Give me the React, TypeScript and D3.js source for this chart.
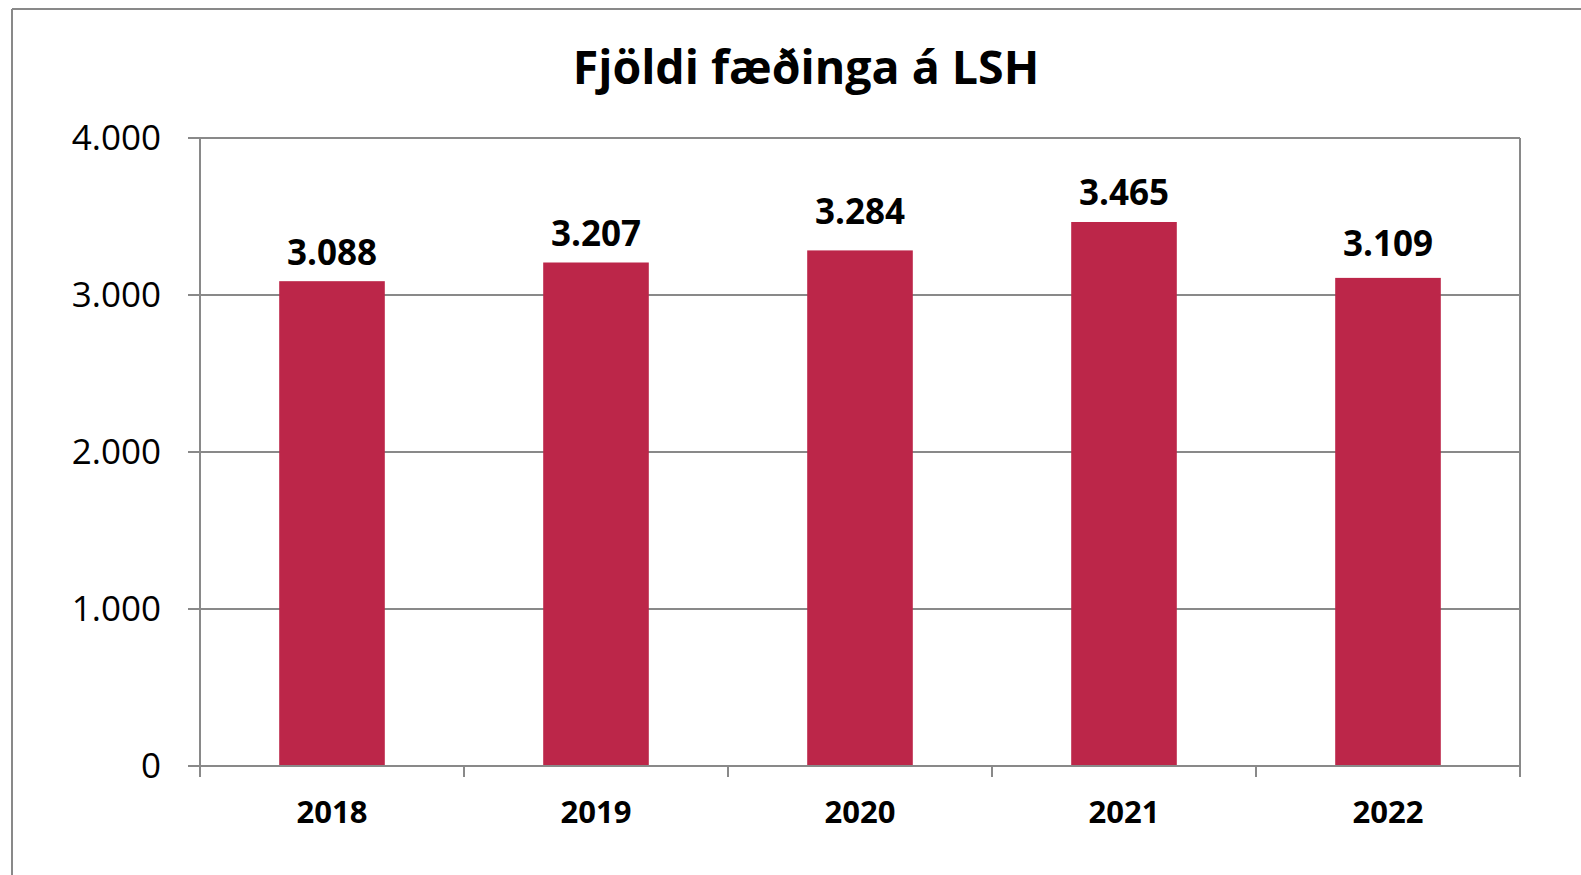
import React from "react";
import * as d3 from "d3";

const categories = ["2018", "2019", "2020", "2021", "2022"];
const births = [3088, 3207, 3284, 3465, 3109];
const yTicks = [0, 1000, 2000, 3000, 4000];
const title = "Fjöldi fæðinga á LSH";

// gap (px) between each bar top and its value label baseline, as placed in the original
const labelGap = [16, 17, 26, 17, 22];

const W = 1581;
const H = 875;
const plot = { left: 200, right: 1520, top: 138, bottom: 766 };
const FONT = "'Open Sans', 'Noto Sans', sans-serif";
const GRID = "#898989";
const BAR = "#BC2649";

const fmt = (v: number) => d3.format(",")(v).replace(/,/g, ".");

export default function App() {
  const x = d3
    .scaleBand<string>()
    .domain(categories)
    .range([plot.left, plot.right])
    .paddingInner(0)
    .paddingOuter(0);
  const y = d3.scaleLinear().domain([0, 4000]).range([plot.bottom, plot.top]);
  const barW = x.bandwidth() * 0.4;
  const boundaries = categories.map((c) => x(c) as number).concat([plot.right]);

  return (
    <svg
      width={W}
      height={H}
      style={{ position: "absolute", left: 0, top: 0, background: "#fff" }}
    >
      <rect x={0} y={0} width={W} height={H} fill="#fff" />
      {/* outer chart border */}
      <line x1={12} y1={9} x2={W} y2={9} stroke={GRID} strokeWidth={2} />
      <line x1={12} y1={9} x2={12} y2={H} stroke={GRID} strokeWidth={2} />

      <text
        x={806}
        y={84}
        textAnchor="middle"
        fontFamily={FONT}
        fontWeight="bold"
        fontSize={46.5}
        fill="#000"
      >
        {title}
      </text>

      {/* gridlines & y ticks */}
      {yTicks.map((t) => (
        <g key={t}>
          <line
            x1={plot.left - 12}
            x2={plot.right}
            y1={y(t)}
            y2={y(t)}
            stroke={GRID}
            strokeWidth={2}
          />
          <text
            x={161}
            y={y(t)}
            dy="0.35em"
            textAnchor="end"
            fontFamily={FONT}
            fontSize={35}
            fill="#000"
          >
            {fmt(t)}
          </text>
        </g>
      ))}
      {/* plot area border left & right */}
      <line x1={plot.left} x2={plot.left} y1={plot.top} y2={plot.bottom + 11} stroke={GRID} strokeWidth={2} />
      <line x1={plot.right} x2={plot.right} y1={plot.top} y2={plot.bottom + 11} stroke={GRID} strokeWidth={2} />
      {boundaries.map((b, i) => (
        <line key={i} x1={b} x2={b} y1={plot.bottom} y2={plot.bottom + 11} stroke={GRID} strokeWidth={2} />
      ))}

      {/* bars */}
      {categories.map((c, i) => {
        const cx = (x(c) as number) + x.bandwidth() / 2;
        return (
          <g key={c}>
            <rect
              x={cx - barW / 2}
              y={y(births[i])}
              width={barW}
              height={plot.bottom - y(births[i])}
              fill={BAR}
            />
            <text
              x={cx}
              y={y(births[i]) - labelGap[i]}
              textAnchor="middle"
              fontFamily={FONT}
              fontWeight="bold"
              fontSize={35}
              fill="#000"
            >
              {fmt(births[i])}
            </text>
            <text
              x={cx}
              y={823}
              textAnchor="middle"
              fontFamily={FONT}
              fontWeight="bold"
              fontSize={31}
              fill="#000"
            >
              {c}
            </text>
          </g>
        );
      })}
      {/* redraw baseline over bars */}
      <line x1={plot.left - 12} x2={plot.right} y1={plot.bottom} y2={plot.bottom} stroke={GRID} strokeWidth={2} />
    </svg>
  );
}
